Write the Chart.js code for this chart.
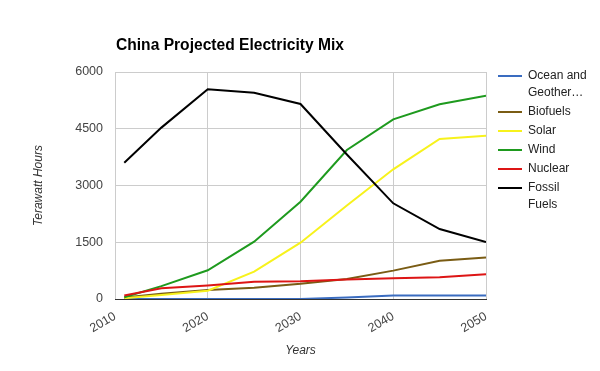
<!DOCTYPE html>
<html>
<head>
<meta charset="utf-8">
<title>China Projected Electricity Mix</title>
<script src="https://cdn.jsdelivr.net/npm/chart.js@4.4.1/dist/chart.umd.min.js"></script>
<style>
    body { margin: 0; background: #fff; font-family: Arial, "Liberation Sans", sans-serif; }
    #wrap { position: relative; width: 600px; height: 371px; }
    #title { position: absolute; left: 116px; top: 35px; font-size: 15.6px; line-height: 20px; font-weight: bold; color: #000; white-space: nowrap; }
    #legend { position: absolute; left: 498px; top: 67px; font-size: 12px; line-height: 17px; color: #222; }
    .item { position: relative; padding-left: 30px; width: 62px; margin-bottom: 2px; }
    .swatch { position: absolute; left: 0; top: 7.5px; width: 24px; height: 2px; }
</style>
</head>
<body>
<div id="wrap">
    <canvas id="chart" width="600" height="371"></canvas>
    <div id="title">China Projected Electricity Mix</div>
    <div id="legend"></div>
</div>
<script>
const years = [2011, 2015, 2020, 2025, 2030, 2035, 2040, 2045, 2050];
const xTicks = [2010, 2020, 2030, 2040, 2050];
const yTicks = [0, 1500, 3000, 4500, 6000];

const ocean = [0, 0, 0, 0, 0, 40, 90, 95, 95];
const biofuels = [40, 140, 238, 300, 400, 530, 750, 1010, 1100];
const solar = [20, 105, 220, 722, 1489, 2470, 3428, 4229, 4317];
const wind = [45, 340, 760, 1515, 2572, 3938, 4750, 5146, 5374];
const nuclear = [90, 282, 360, 458, 470, 515, 550, 573, 652];
const fossil = [3600, 4530, 5543, 5453, 5154, 3820, 2529, 1850, 1507];

const seriesNames = ['Ocean and Geothermal', 'Biofuels', 'Solar', 'Wind', 'Nuclear', 'Fossil Fuels'];
const seriesValues = [ocean, biofuels, solar, wind, nuclear, fossil];
const seriesColors = ['#3a6cc0', '#7a5c14', '#f7f21c', '#1e9a1e', '#dd1515', '#000000'];

const datasets = seriesNames.map((name, i) => ({
    label: name,
    data: years.map((yr, j) => ({ x: yr, y: seriesValues[i][j] })),
    borderColor: seriesColors[i],
    backgroundColor: seriesColors[i],
    borderWidth: 2,
    pointRadius: 0,
    tension: 0,
    fill: false,
    order: seriesNames.length - i,
}));

const tickFont = { family: 'Arial, "Liberation Sans", sans-serif', size: 12.5 };
const titleFont = { family: 'Arial, "Liberation Sans", sans-serif', size: 12, style: 'italic' };

new Chart(document.getElementById('chart'), {
    type: 'line',
    data: { datasets },
    options: {
        responsive: false,
        animation: false,
        devicePixelRatio: 1,
        layout: { padding: { left: 0, top: 72, right: 114, bottom: 0 } },
        plugins: {
            legend: { display: false },
            title: { display: false },
            tooltip: { enabled: false },
        },
        scales: {
            x: {
                type: 'linear',
                min: xTicks[0],
                max: xTicks[xTicks.length - 1],
                afterFit: s => { s.height = 72; },
                afterBuildTicks: s => { s.ticks = xTicks.map(v => ({ value: v })); },
                ticks: {
                    minRotation: 30,
                    maxRotation: 30,
                    padding: 10,
                    color: '#444',
                    font: tickFont,
                    callback: v => String(v),
                },
                grid: { color: '#cccccc', drawTicks: false },
                border: { color: '#333', width: 1 },
                title: { display: true, text: 'Years', color: '#333', font: titleFont, padding: { top: 0, bottom: 13 } },
            },
            y: {
                min: yTicks[0],
                max: yTicks[yTicks.length - 1],
                afterFit: s => { s.width = 115; },
                afterBuildTicks: s => { s.ticks = yTicks.map(v => ({ value: v })); },
                ticks: {
                    padding: 12,
                    color: '#444',
                    font: tickFont,
                    callback: v => String(v),
                },
                grid: { color: '#cccccc', drawTicks: false },
                border: { display: false },
                title: { display: true, text: 'Terawatt Hours', color: '#333', font: titleFont, padding: { top: 31, bottom: 0 } },
            },
        },
    },
});

// legend drawn as html so the long names can wrap like the original
const legend = document.getElementById('legend');
seriesNames.forEach((name, i) => {
    const item = document.createElement('div');
    item.className = 'item';
    const sw = document.createElement('span');
    sw.className = 'swatch';
    sw.style.background = seriesColors[i];
    item.appendChild(sw);
    const text = name.length > 18 ? name.slice(0, 17) + '…' : name;
    item.appendChild(document.createTextNode(text));
    legend.appendChild(item);
});
</script>
</body>
</html>
